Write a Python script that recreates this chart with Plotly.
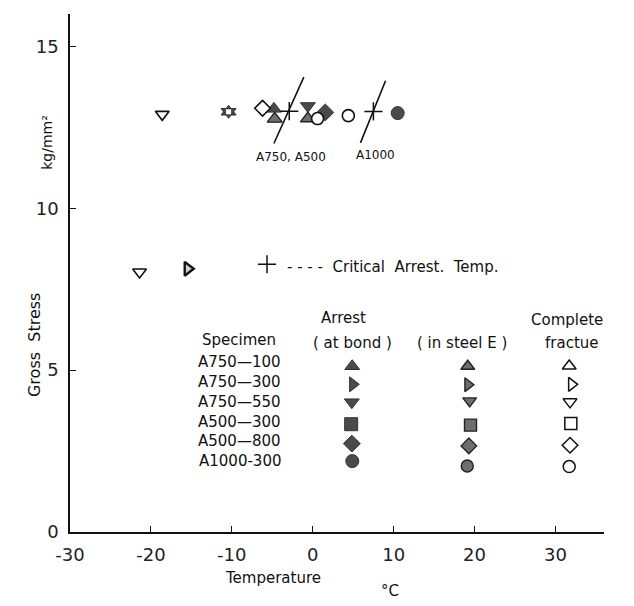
import plotly.graph_objects as go

FONT = "DejaVu Sans"

# ---------------- data ----------------
x_tick_vals = [-30, -20, -10, 0, 10, 20, 30]
x_tick_text = ["-30", "-20", "-10", "0", "10", "20", "30"]
y_tick_vals = [0, 5, 10, 15]

# complete fracture (open marks) plotted in the field
open_T = [-18.6, -6.2, 0.6, 4.4, -21.4]
open_S = [12.9, 13.09, 12.77, 12.86, 8.03]
open_sym = ["triangle-down", "diamond", "circle", "circle", "triangle-down"]

open_thick_T = [-15.45]
open_thick_S = [8.13]
open_thick_sym = ["triangle-right"]

# arrest at bond (solid marks) plotted in the field
bond_T = [-10.4, -10.4, -4.8, -0.6, 1.55, 10.5]
bond_S = [12.98, 12.98, 13.07, 13.16, 12.96, 12.94]
bond_sym = ["triangle-up", "triangle-down", "triangle-up", "triangle-down", "diamond", "circle"]

inner_T = [-10.4]
inner_S = [12.98]

# arrest in steel E (half marks) plotted in the field
steel_T = [-4.7, -0.6]
steel_S = [12.76, 12.77]
steel_sym = ["triangle-up", "triangle-up"]

# critical arrest temperature marks
cross_T = [-2.9, 7.5, -5.65]
cross_S = [13.0, 12.99, 8.27]

# slanted indicator lines
lineA_T = [-4.8, -1.1]
lineA_S = [12.0, 14.05]
lineB_T = [5.9, 9.0]
lineB_S = [12.02, 13.94]

# key table
key_sym = ["triangle-up", "triangle-right", "triangle-down", "square", "diamond", "circle"]
key_bond_T = [4.88, 4.96, 4.83, 4.75, 4.83, 4.89]
key_bond_S = [5.12, 4.56, 4.01, 3.33, 2.73, 2.19]
key_steel_T = [19.16, 19.18, 19.4, 19.5, 19.3, 19.1]
key_steel_S = [5.12, 4.55, 4.05, 3.30, 2.66, 2.04]
key_frac_T = [31.7, 32.0, 31.8, 31.9, 31.8, 31.7]
key_frac_S = [5.13, 4.56, 4.02, 3.35, 2.68, 2.02]

specimens = ["A750—100", "A750—300", "A750—550", "A500—300", "A500—800", "A1000-300"]
specimen_S = [5.26, 4.64, 4.02, 3.40, 2.80, 2.20]
specimen_T = -3.7

# ---------------- figure ----------------
DARK = "#4a4a4a"
fig = go.Figure()

fig.add_trace(go.Scatter(x=lineA_T, y=lineA_S, mode="lines",
                         line=dict(color="#111", width=1.6), hoverinfo="skip"))
fig.add_trace(go.Scatter(x=lineB_T, y=lineB_S, mode="lines",
                         line=dict(color="#111", width=1.6), hoverinfo="skip"))

# field markers
fig.add_trace(go.Scatter(x=bond_T, y=bond_S, mode="markers",
                         marker=dict(symbol=bond_sym, size=13, color=DARK,
                                     line=dict(color="#333", width=1))))
fig.add_trace(go.Scatter(x=inner_T, y=inner_S, mode="markers",
                         marker=dict(symbol="square", size=5, color="white",
                                     line=dict(width=0))))
fig.add_trace(go.Scatter(x=steel_T, y=steel_S, mode="markers",
                         marker=dict(symbol=steel_sym, size=13, color="#6e6e6e",
                                     line=dict(color="#222", width=1.4))))
fig.add_trace(go.Scatter(x=open_T, y=open_S, mode="markers",
                         marker=dict(symbol=open_sym, size=12, color="white",
                                     line=dict(color="#111", width=1.6))))
fig.add_trace(go.Scatter(x=open_thick_T, y=open_thick_S, mode="markers",
                         marker=dict(symbol=open_thick_sym, size=12, color="#cfcfcf",
                                     line=dict(color="#111", width=2.4))))
fig.add_trace(go.Scatter(x=cross_T, y=cross_S, mode="markers",
                         marker=dict(symbol="cross-thin", size=13,
                                     line=dict(color="#111", width=1.5))))

# key markers
fig.add_trace(go.Scatter(x=key_bond_T, y=key_bond_S, mode="markers",
                         marker=dict(symbol=key_sym, size=13, color=DARK,
                                     line=dict(color="#333", width=1))))
fig.add_trace(go.Scatter(x=key_steel_T, y=key_steel_S, mode="markers",
                         marker=dict(symbol=key_sym, size=12, color="#6e6e6e",
                                     line=dict(color="#222", width=1.4))))
fig.add_trace(go.Scatter(x=key_frac_T, y=key_frac_S, mode="markers",
                         marker=dict(symbol=key_sym, size=12, color="white",
                                     line=dict(color="#111", width=1.5))))

ann = []
txt = dict(family=FONT, size=15, color="#111")
for name, s in zip(specimens, specimen_S):
    ann.append(dict(x=specimen_T, y=s, text=name, xanchor="right", yanchor="middle",
                    showarrow=False, font=txt))
ann += [
    dict(x=-4.3, y=5.93, text="Specimen", xanchor="right", showarrow=False, font=txt),
    dict(x=3.8, y=6.62, text="Arrest", showarrow=False, font=txt),
    dict(x=4.9, y=5.85, text="( at bond )", showarrow=False, font=txt),
    dict(x=18.5, y=5.85, text="( in steel E )", showarrow=False, font=txt),
    dict(x=31.4, y=6.55, text="Complete", showarrow=False, font=txt),
    dict(x=32.0, y=5.85, text="fractue", showarrow=False, font=txt),
    dict(x=-3.4, y=8.2, text="- - - -  Critical  Arrest.  Temp.", xanchor="left",
         showarrow=False, font=dict(family=FONT, size=15, color="#111")),
    dict(x=-2.7, y=11.59, text="A750, A500", showarrow=False,
         font=dict(family=FONT, size=12, color="#111")),
    dict(x=7.8, y=11.65, text="A1000", showarrow=False,
         font=dict(family=FONT, size=12, color="#111")),
    dict(x=-0.088, y=0.36, xref="paper", yref="paper", text="Gross  Stress",
         textangle=-90, showarrow=False, font=dict(family=FONT, size=16, color="#111")),
    dict(x=-0.062, y=0.81, xref="paper", yref="paper", text="kg/mm²",
         textangle=-90, showarrow=False, font=dict(family=FONT, size=14, color="#111")),
    dict(x=0.38, y=-0.11, xref="paper", yref="paper", text="Temperature",
         showarrow=False, font=dict(family=FONT, size=15, color="#111")),
    dict(x=0.60, y=-0.135, xref="paper", yref="paper", text="°C",
         showarrow=False, font=dict(family=FONT, size=15, color="#111")),
]

fig.update_layout(
    width=634, height=606,
    margin=dict(l=70, r=30, t=14, b=74),
    paper_bgcolor="white", plot_bgcolor="white",
    showlegend=False,
    annotations=ann,
    font=dict(family=FONT, color="#111"),
)
fig.update_xaxes(range=[-30, 36], tickvals=x_tick_vals, ticktext=x_tick_text,
                 showgrid=False, zeroline=False,
                 showline=True, linecolor="#111", linewidth=1.6,
                 ticks="inside", ticklen=6, tickcolor="#111", ticklabelstandoff=6,
                 tickfont=dict(family=FONT, size=18, color="#222"))
fig.update_yaxes(range=[0, 16], tickvals=y_tick_vals, showgrid=False, zeroline=False,
                 showline=True, linecolor="#111", linewidth=1.6,
                 ticks="inside", ticklen=6, tickcolor="#111", ticklabelstandoff=6,
                 tickfont=dict(family=FONT, size=18, color="#222"))

fig.write_html("out.html")
